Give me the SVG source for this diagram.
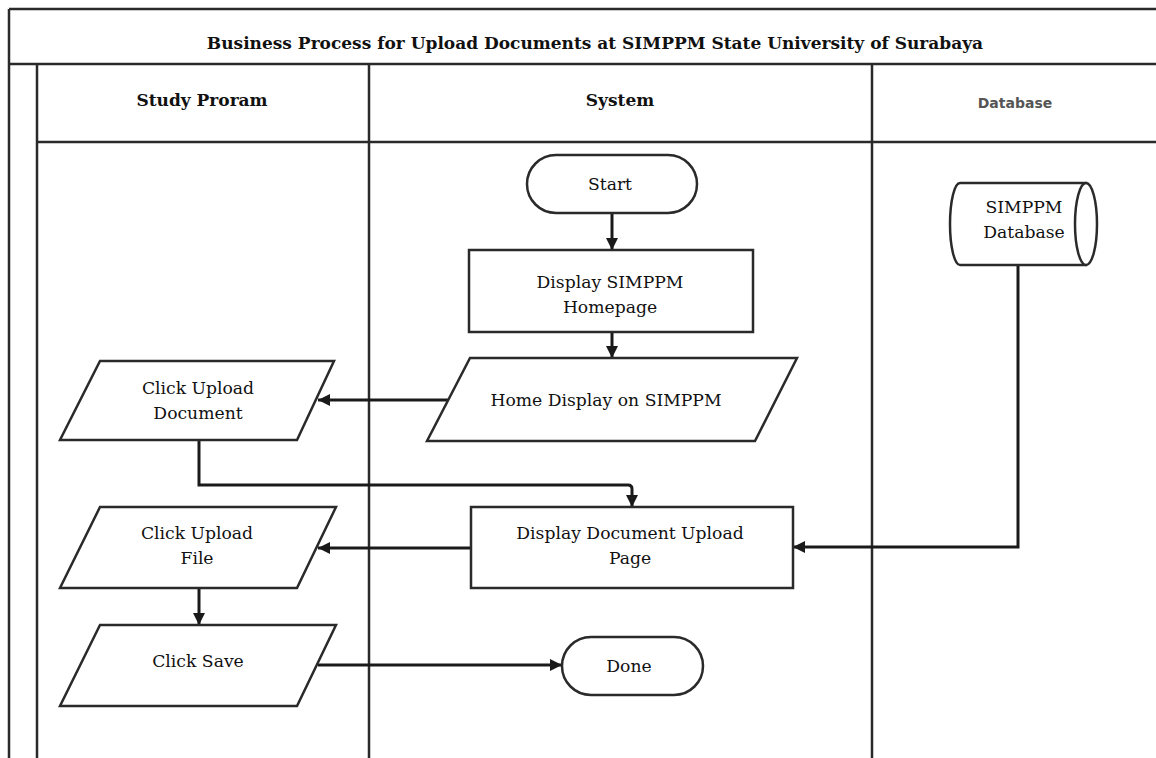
<svg xmlns="http://www.w3.org/2000/svg" width="1156" height="758" viewBox="0 0 1156 758">
<style>
.lane{stroke:#2a2a2a;stroke-width:2.5;fill:none}
.shape{fill:#fff;stroke:#2a2a2a;stroke-width:2.5}
.conn{fill:none;stroke:#1a1a1a;stroke-width:3}
.t{font-family:"DejaVu Serif","Liberation Serif",serif;font-size:17.2px;fill:#111;text-anchor:middle}
.h{font-family:"DejaVu Serif","Liberation Serif",serif;font-size:17px;font-weight:bold;fill:#111;text-anchor:middle}
.db{font-family:"DejaVu Sans","Liberation Sans",sans-serif;font-size:14px;font-weight:bold;fill:#555;text-anchor:middle}
</style>
<defs>
<marker id="arr" viewBox="0 0 10 10" refX="10" refY="5" markerWidth="4" markerHeight="4" orient="auto" markerUnits="strokeWidth">
<path d="M0,0 L10,5 L0,10 z" fill="#1a1a1a"/>
</marker>
</defs>
<rect width="1156" height="758" fill="#fff"/>
<g id="lanes">
<line class="lane" x1="9" y1="9" x2="1156" y2="9"/>
<line class="lane" x1="9" y1="64" x2="1156" y2="64"/>
<line class="lane" x1="37" y1="142" x2="1156" y2="142"/>
<line class="lane" x1="9" y1="9" x2="9" y2="758"/>
<line class="lane" x1="37" y1="64" x2="37" y2="758"/>
<line class="lane" x1="369" y1="64" x2="369" y2="758"/>
<line class="lane" x1="872" y1="64" x2="872" y2="758"/>
<text class="h" x="595" y="49">Business Process for Upload Documents at SIMPPM State University of Surabaya</text>
<text class="h" x="202" y="106">Study Proram</text>
<text class="h" x="620" y="106">System</text>
<text class="db" x="1015" y="108">Database</text>
</g>
<g id="connectors">
<line class="conn" x1="612" y1="213" x2="612" y2="250" marker-end="url(#arr)"/>
<line class="conn" x1="612" y1="332" x2="612" y2="358" marker-end="url(#arr)"/>
<line class="conn" x1="448" y1="400" x2="318" y2="400" marker-end="url(#arr)"/>
<path class="conn" d="M199,440 L199,485 L628,485 Q632,485 632,489 L632,507" marker-end="url(#arr)"/>
<line class="conn" x1="471" y1="548" x2="318" y2="548" marker-end="url(#arr)"/>
<line class="conn" x1="199" y1="588" x2="199" y2="625" marker-end="url(#arr)"/>
<line class="conn" x1="318" y1="665" x2="562" y2="665" marker-end="url(#arr)"/>
<path class="conn" d="M1018,265 L1018,547 L793,547" marker-end="url(#arr)"/>
</g>
<g id="start">
<rect class="shape" x="527" y="155" width="170" height="58" rx="29"/>
<text class="t" x="610" y="190">Start</text>
</g>
<g id="display-homepage">
<rect class="shape" x="469" y="250" width="284" height="82"/>
<text class="t" x="610" y="288">Display SIMPPM</text>
<text class="t" x="610" y="313">Homepage</text>
</g>
<g id="home-display">
<polygon class="shape" points="470,358 797,358 755,441 427,441"/>
<text class="t" x="606" y="406">Home Display on SIMPPM</text>
</g>
<g id="click-upload-document">
<polygon class="shape" points="100,361 334,361 297,440 60,440"/>
<text class="t" x="198" y="394">Click Upload</text>
<text class="t" x="198" y="419">Document</text>
</g>
<g id="display-upload-page">
<rect class="shape" x="471" y="507" width="322" height="81"/>
<text class="t" x="630" y="539">Display Document Upload</text>
<text class="t" x="630" y="564">Page</text>
</g>
<g id="click-upload-file">
<polygon class="shape" points="100,507 336,507 297,588 60,588"/>
<text class="t" x="197" y="539">Click Upload</text>
<text class="t" x="197" y="564">File</text>
</g>
<g id="click-save">
<polygon class="shape" points="100,625 336,625 297,706 60,706"/>
<text class="t" x="198" y="667">Click Save</text>
</g>
<g id="done">
<rect class="shape" x="562" y="637" width="141" height="58" rx="29"/>
<text class="t" x="629" y="672">Done</text>
</g>
<g id="simppm-database">
<path class="shape" d="M960,183 L1086,183 L1086,265 L960,265 A10,41 0 0 1 960,183 z"/>
<ellipse class="shape" cx="1086" cy="224" rx="11" ry="41"/>
<text class="t" x="1024" y="213">SIMPPM</text>
<text class="t" x="1024" y="238">Database</text>
</g>
</svg>
